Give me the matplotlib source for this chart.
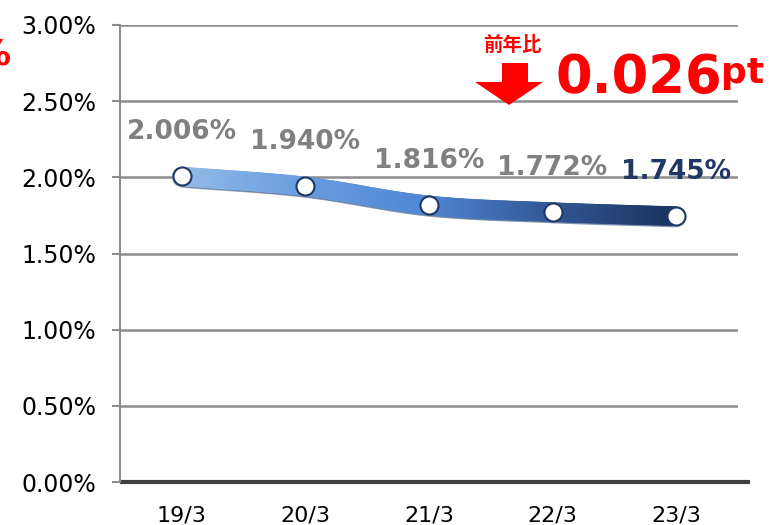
import numpy as np
import matplotlib

matplotlib.use("Agg")
import matplotlib.pyplot as plt
from matplotlib.collections import LineCollection
from matplotlib.colors import LinearSegmentedColormap
from matplotlib.patches import Polygon

plt.rcParams["font.family"] = ["DejaVu Sans", "Noto Sans CJK JP"]

periods = ["19/3", "20/3", "21/3", "22/3", "23/3"]
ratio = [2.006, 1.940, 1.816, 1.772, 1.745]
labels = ["2.006%", "1.940%", "1.816%", "1.772%", "1.745%"]
yticks = [0.0, 0.5, 1.0, 1.5, 2.0, 2.5, 3.0]
change_text = "0.026"

W, H = 771, 525
fig = plt.figure(figsize=(W / 100, H / 100), dpi=100)
ax = fig.add_axes([120 / W, 1 - 482 / H, 618 / W, 457 / H])
ax.set_xlim(-0.5, len(periods) - 0.5)
ax.set_ylim(0, 3.0)


def px(x, y):
    # pixel position (top-left origin) -> figure fraction
    return x / W, 1 - y / H


# grid and axes
for v in yticks[1:]:
    ax.axhline(v, color="#8c8c8c", lw=1.8, zorder=1)
for s in ["top", "right", "bottom"]:
    ax.spines[s].set_visible(False)
ax.spines["left"].set_color("#8c8c8c")
ax.spines["left"].set_linewidth(1.5)
ax.plot([0, 630 / 618], [0, 0], transform=ax.transAxes, color="#404040",
        lw=3, clip_on=False, zorder=2, solid_capstyle="butt")

ax.set_yticks(yticks, [f"{v:.2f}%" for v in yticks])
ax.set_xticks(range(len(periods)), periods)
ax.tick_params(axis="y", length=6, width=1.5, color="#8c8c8c", pad=11, labelsize=17)
ax.tick_params(axis="x", length=0, pad=17, labelsize=16)

# smoothed gradient line (Catmull-Rom through the data points, rendering only)
xs = np.arange(len(ratio), dtype=float)
ys = np.array(ratio)
sy = 152.0 / 123.6  # y scale relative to x in pixels
pts = np.column_stack([xs, ys * sy])
pad_pts = np.vstack([pts[0] - (pts[1] - pts[0]), pts, pts[-1] + (pts[-1] - pts[-2])])
curve = []
for i in range(1, len(pad_pts) - 2):
    p0, p1, p2, p3 = pad_pts[i - 1], pad_pts[i], pad_pts[i + 1], pad_pts[i + 2]
    for t in np.linspace(0, 1, 40, endpoint=False):
        t2, t3 = t * t, t * t * t
        c = 0.5 * ((2 * p1) + (-p0 + p2) * t + (2 * p0 - 5 * p1 + 4 * p2 - p3) * t2
                   + (-p0 + 3 * p1 - 3 * p2 + p3) * t3)
        curve.append(c)
curve.append(pts[-1])
curve = np.array(curve)
curve[:, 1] /= sy
segs = np.stack([curve[:-1], curve[1:]], axis=1)

cmap = LinearSegmentedColormap.from_list(
    "band", ["#95bce8", "#6a9de0", "#5088d6", "#34599a", "#1c3561"])
shade = LineCollection(segs - np.array([0, 0.008]), colors="#2a4a7a", linewidths=14.5,
                       alpha=0.25, capstyle="round", zorder=3)
ax.add_collection(shade)
lc = LineCollection(segs, cmap=cmap, linewidths=14, capstyle="round", zorder=4)
lc.set_array(np.linspace(0, 1, len(segs)))
ax.add_collection(lc)

ax.plot(xs, ys, "o", ms=13, mfc="white", mec="#1f3864", mew=1.5, zorder=5)

for i, (v, lab) in enumerate(zip(ratio, labels)):
    col = "#1f3864" if i == len(ratio) - 1 else "#808080"
    ax.annotate(lab, (i, v), xytext=(0, 32), textcoords="offset points",
                ha="center", va="center", fontsize=19, fontweight="bold", color=col, zorder=6)

# year-over-year callout
red = "#ff0000"
arrow = [(502, 63), (528, 63), (528, 82), (543, 82), (509, 105), (475, 82), (502, 82)]
fig.patches.append(Polygon([px(*p) for p in arrow], closed=True, transform=fig.transFigure,
                           facecolor=red, edgecolor="none"))
fig.text(*px(512, 45), "前年比", ha="center", va="center", fontsize=14, fontweight="bold",
         color=red, family=["Noto Sans CJK JP", "DejaVu Sans"])
fig.text(*px(555, 93), change_text, ha="left", va="baseline", fontsize=38,
         fontweight="bold", color=red)
fig.text(*px(721, 83), "pt", ha="left", va="baseline", fontsize=26,
         fontweight="bold", color=red)
fig.text(*px(11, 64), "%", ha="right", va="baseline", fontsize=26,
         fontweight="bold", color=red)

fig.savefig("out.png", dpi=100)
